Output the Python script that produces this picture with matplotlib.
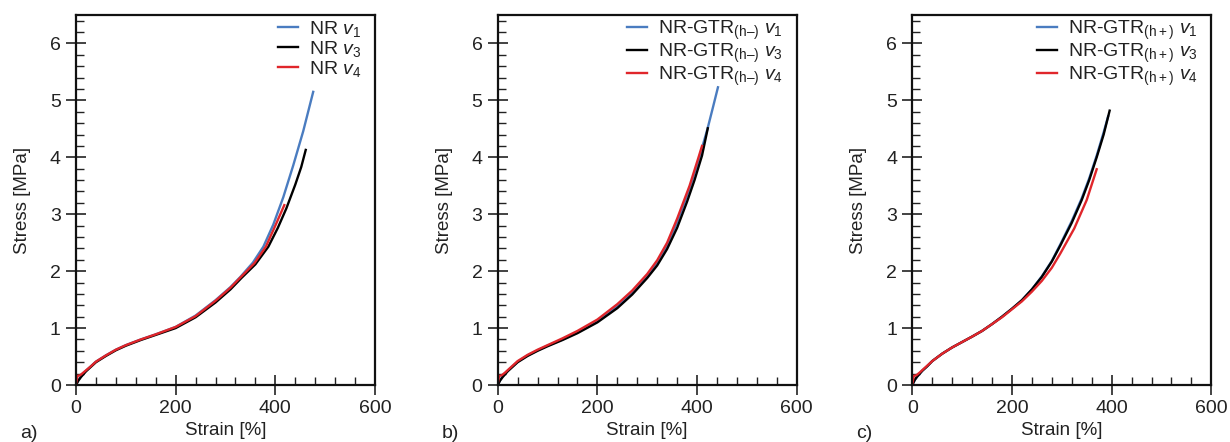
import matplotlib
matplotlib.use("Agg")
import matplotlib.pyplot as plt
from matplotlib.ticker import MultipleLocator

plt.rcParams['font.family'] = ['Liberation Sans', 'DejaVu Sans']
plt.rcParams['mathtext.fontset'] = 'custom'
plt.rcParams['mathtext.rm'] = 'Liberation Sans'
plt.rcParams['mathtext.it'] = 'Liberation Sans:italic'
plt.rcParams['mathtext.bf'] = 'Liberation Sans:bold'

# ---------------- data ----------------
# Panel a) NR
nr_v1_x = [0, 5, 10, 20, 30, 40, 60, 80, 100, 130, 160, 200, 240, 280, 310, 330, 355, 376, 396, 416, 436, 456, 476]
nr_v1_y = [0, 0.09, 0.15, 0.25, 0.33, 0.41, 0.52, 0.62, 0.70, 0.80, 0.89, 1.02, 1.22, 1.49, 1.72, 1.90, 2.15, 2.43, 2.82, 3.30, 3.86, 4.46, 5.15]
nr_v3_x = [0, 5, 10, 20, 30, 40, 60, 80, 100, 130, 160, 200, 240, 280, 310, 332, 360, 386, 405, 422, 440, 452, 461]
nr_v3_y = [0, 0.08, 0.14, 0.24, 0.32, 0.40, 0.51, 0.61, 0.69, 0.79, 0.88, 1.00, 1.19, 1.45, 1.68, 1.88, 2.12, 2.43, 2.76, 3.10, 3.52, 3.83, 4.13]
nr_v4_x = [0, 3, 8, 15, 30, 40, 60, 80, 100, 130, 160, 200, 240, 280, 310, 330, 358, 381, 400, 418]
nr_v4_y = [0.02, 0.16, 0.17, 0.22, 0.33, 0.41, 0.52, 0.62, 0.70, 0.80, 0.89, 1.02, 1.21, 1.48, 1.71, 1.89, 2.14, 2.43, 2.80, 3.16]

# Panel b) NR-GTR(h-)
hm_v1_x = [0, 5, 10, 20, 30, 40, 60, 80, 100, 130, 160, 200, 240, 270, 300, 320, 340, 360, 385, 403, 421, 432, 442]
hm_v1_y = [0, 0.09, 0.15, 0.25, 0.33, 0.41, 0.52, 0.61, 0.69, 0.80, 0.93, 1.12, 1.38, 1.62, 1.92, 2.16, 2.46, 2.86, 3.45, 3.95, 4.50, 4.88, 5.23]
hm_v3_x = [0, 5, 10, 20, 30, 40, 60, 80, 100, 130, 160, 200, 240, 270, 300, 320, 340, 360, 380, 395, 410, 421.6]
hm_v3_y = [0, 0.08, 0.14, 0.24, 0.32, 0.40, 0.51, 0.60, 0.68, 0.79, 0.91, 1.10, 1.35, 1.59, 1.88, 2.10, 2.39, 2.76, 3.22, 3.60, 4.03, 4.51]
hm_v4_x = [0, 3, 8, 15, 30, 40, 60, 80, 100, 130, 160, 200, 240, 270, 300, 320, 340, 360, 385, 403, 410]
hm_v4_y = [0.02, 0.16, 0.17, 0.22, 0.34, 0.42, 0.53, 0.62, 0.70, 0.82, 0.95, 1.15, 1.42, 1.66, 1.95, 2.19, 2.50, 2.92, 3.50, 4.00, 4.20]

# Panel c) NR-GTR(h+)
hp_v1_x = [0, 5, 10, 20, 30, 40, 60, 80, 100, 120, 140, 160, 180, 200, 220, 240, 260, 280, 297, 320, 340, 355, 370, 384, 393]
hp_v1_y = [0, 0.09, 0.15, 0.25, 0.33, 0.42, 0.55, 0.66, 0.755, 0.85, 0.95, 1.07, 1.20, 1.34, 1.49, 1.68, 1.91, 2.18, 2.47, 2.88, 3.28, 3.63, 4.03, 4.44, 4.72]
hp_v3_x = [0, 5, 10, 20, 30, 40, 60, 80, 100, 120, 140, 160, 180, 200, 220, 240, 260, 280, 297, 320, 340, 355, 370, 384, 396]
hp_v3_y = [0, 0.09, 0.15, 0.25, 0.33, 0.42, 0.55, 0.66, 0.755, 0.85, 0.95, 1.07, 1.20, 1.34, 1.49, 1.68, 1.90, 2.17, 2.45, 2.85, 3.25, 3.60, 4.00, 4.40, 4.82]
hp_v4_x = [0, 3, 8, 15, 30, 40, 60, 80, 100, 120, 140, 160, 180, 200, 220, 240, 260, 280, 297, 325, 350, 370]
hp_v4_y = [0.02, 0.16, 0.17, 0.22, 0.34, 0.42, 0.55, 0.66, 0.755, 0.85, 0.95, 1.07, 1.19, 1.33, 1.47, 1.64, 1.83, 2.06, 2.31, 2.75, 3.25, 3.79]

panel_letters = ['a)', 'b)', 'c)']
materials = ['NR', r'NR-GTR$_{\mathrm{(h–)}}$', r'NR-GTR$_{\mathrm{(h+)}}$']
variants = [r'$v_1$', r'$v_3$', r'$v_4$']
series = [
    [(nr_v1_x, nr_v1_y), (nr_v3_x, nr_v3_y), (nr_v4_x, nr_v4_y)],
    [(hm_v1_x, hm_v1_y), (hm_v3_x, hm_v3_y), (hm_v4_x, hm_v4_y)],
    [(hp_v1_x, hp_v1_y), (hp_v3_x, hp_v3_y), (hp_v4_x, hp_v4_y)],
]
colors = ['#4a7cc0', '#000000', '#e0262b']

# ---------------- figure ----------------
W, H = 1230, 442
fig = plt.figure(figsize=(W / 100, H / 100), dpi=100)
lefts = [76, 497.7, 912.3]
ax_w = 299
ax_top, ax_bot = 15, 385
txt_col = '#222222'

for i in range(3):
    ax = fig.add_axes([lefts[i] / W, 1 - ax_bot / H, ax_w / W, (ax_bot - ax_top) / H])
    for (x, y), c, v in zip(series[i], colors, variants):
        ax.plot(x, y, color=c, lw=1.7, label=f'{materials[i]} {v}')
    ax.set_xlim(0, 600)
    ax.set_ylim(0, 6.5)
    ax.xaxis.set_major_locator(MultipleLocator(200))
    ax.xaxis.set_minor_locator(MultipleLocator(40))
    ax.yaxis.set_major_locator(MultipleLocator(1))
    ax.yaxis.set_minor_locator(MultipleLocator(0.2))
    ax.tick_params(which='major', direction='inout', length=14, width=1.2,
                   labelsize=14, pad=4, colors='#222222', labelcolor=txt_col)
    ax.tick_params(which='minor', direction='in', length=6, width=1.0, colors='#222222')
    for s in ax.spines.values():
        s.set_linewidth(1.6)
        s.set_color('#111111')
    ax.set_xlabel('Strain [%]', fontsize=13.5, color=txt_col)
    ax.set_ylabel('Stress [MPa]', fontsize=13.5, color=txt_col)
    ax.xaxis.set_label_coords(0.5, -0.100)
    ax.yaxis.set_label_coords(-0.150, 0.5)
    leg = ax.legend(loc='upper right', bbox_to_anchor=(0.955, 0.99), frameon=False, fontsize=14,
                    handlelength=1.05, handletextpad=0.55, labelspacing=0.0,
                    borderaxespad=0.0, borderpad=0.0)
    for t in leg.get_texts():
        t.set_color(txt_col)
    fig.text((lefts[i] - 56) / W, 1 - 433 / H, panel_letters[i], fontsize=14,
             color=txt_col, va='center', ha='left')

fig.savefig('out.png', dpi=100)
